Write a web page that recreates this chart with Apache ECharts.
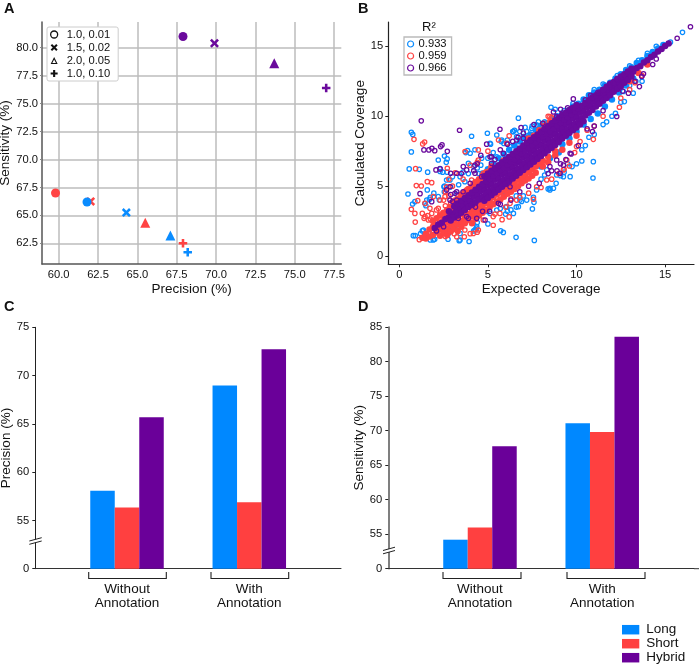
<!DOCTYPE html>
<html><head><meta charset="utf-8">
<style>html,body{margin:0;padding:0;background:#fff}#c{width:699px;height:665px}</style>
<script src="https://cdn.jsdelivr.net/npm/echarts@6/dist/echarts.min.js"></script>
</head><body><div id="c"></div>
<script>
const FONT = 'Liberation Sans';
const BLUE = '#0a8cff', RED = '#ff4343', PURPLE = '#6a0a9c';
const BAR_PURPLE = '#6a0099';

// Panel A: [precision, sensitivity] for each parameter setting
const paramLabels = ['1.0, 0.01', '1.5, 0.02', '2.0, 0.05', '1.0, 0.10'];
const longPR = [[61.8, 66.2], [64.3, 65.25], [67.1, 63.2], [68.2, 61.7]];
const shortPR = [[59.8, 67.0], [62.03, 66.25], [65.5, 64.35], [67.9, 62.5]];
const hybridPR = [[67.9, 81.0], [69.9, 80.4], [73.7, 78.6], [77.0, 76.4]];
const ticksAX = [60, 62.5, 65, 67.5, 70, 72.5, 75, 77.5];
const ticksAY = [62.5, 65, 67.5, 70, 72.5, 75, 77.5, 80];

// Panel B
const r2Labels = ['0.933', '0.959', '0.966'];
const ticksB = [0, 5, 10, 15];
const longRing = [[0.68,8.85],[0.76,8.7],[0.68,7.45],[0.56,6.23],[1.13,6.2],[1.6,6.0],[0.49,4.44],[0.75,3.72],[0.88,3.89],[0.79,1.46],[0.9,1.46],[1.58,4.73],[1.55,4.0],[1.7,4.05],[1.75,4.2],[1.95,4.5],[2.2,4.25],[1.45,3.75],[1.5,3.6],[2.55,7.15],[2.7,6.95],[2.65,6.7],[2.3,6.25],[2.3,6.05],[2.45,6.0],[2.7,6.0],[2.55,5.0],[2.9,4.95],[3.25,4.4],[3.35,5.1],[3.85,7.55],[3.75,7.4],[3.6,6.0],[3.9,5.9],[4.08,8.57],[4.97,8.78],[5.5,8.66],[5.15,8.0],[5.75,8.2],[5.9,8.05],[6.1,8.3],[6.4,8.9],[6.72,9.86],[6.5,9.0],[6.8,8.9],[7.1,9.2],[7.5,9.3],[7.85,9.6],[7.8,9.3],[8.2,9.6],[8.56,10.64],[8.8,10.5],[5.0,7.0],[5.3,7.4],[4.6,6.5],[4.4,6.3],[4.2,6.4],[4.5,5.9],[8.5,4.73],[8.4,4.8],[8.7,4.85],[8.85,5.2],[7.57,4.2],[7.6,3.84],[7.51,3.37],[6.59,1.34],[7.62,1.12],[5.72,1.81],[5.87,1.69],[5.0,2.3],[4.95,3.2],[6.3,3.3],[6.1,3.2],[6.6,3.5],[6.9,3.9],[7.0,4.3],[6.6,4.3],[6.0,3.0],[5.7,3.4],[4.4,2.4],[4.35,2.0],[4.2,1.8],[4.3,1.9],[3.94,1.04],[3.38,1.1],[2.75,1.2],[1.75,1.15],[2.0,1.2],[1.9,1.7],[1.3,1.8],[1.2,1.6],[2.9,1.8],[3.2,2.2],[10.3,6.8],[10.95,6.75],[10.93,5.58],[9.64,5.68],[9.1,5.75],[9.3,6.0],[10.0,6.6],[9.75,6.4],[9.5,6.6],[8.2,5.8],[8.0,5.5],[10.3,7.6],[10.5,7.9],[10.7,8.5],[11.0,8.7],[11.5,9.4],[11.7,9.6],[12.0,10.0],[12.2,10.2],[12.65,11.77],[13.2,11.65],[12.5,11.0],[12.7,11.05],[13.0,12.2],[13.35,12.5],[13.7,12.5],[15.98,16.0],[15.3,15.3],[9.8,10.9],[10.1,10.8],[10.5,11.0],[9.3,10.4],[11.0,11.9],[11.5,12.3],[12.3,12.9],[13.0,13.6],[13.5,14.0],[14.0,14.5],[14.5,15.0],
[2.2,6.87],[2.26,4.0],[2.52,4.96],[2.54,4.6],[2.67,5.44],[2.86,5.44],[3.0,5.68],[3.43,5.68],[3.7,5.32],[3.9,6.63],[4.0,7.35],[4.27,7.6],[4.65,7.0],[5.12,8.07],[5.2,7.1],[5.5,7.1],[5.78,8.3],[6.06,8.07],[6.25,7.83],[6.44,8.9],[6.62,8.54],[7.0,8.54],[7.19,8.9],[7.47,9.14],[7.75,9.38],[7.94,9.26],[8.32,9.5],[7.75,4.73],[8.5,4.85],[9.26,5.68],[8.88,5.8],[8.32,6.16],[6.06,3.53],[5.5,3.29],[5.12,3.05],[6.44,3.05],[6.81,4.0],[7.19,4.0],[6.72,3.53],[4.37,2.1],[4.27,1.86],[2.77,1.62],[2.86,1.86],[3.43,1.62],[3.43,1.15],[1.92,1.15],[1.36,1.86]];
const longCore = [[5.3,6.6],[5.6,7.0],[5.9,7.3],[6.2,7.6],[6.5,7.9],[6.8,8.2],[7.1,8.5],[7.4,8.7],[7.7,9.0],[8.0,9.3],[8.3,9.5],[8.6,9.8],[8.9,10.0],[9.2,10.2],[9.5,10.4],[9.8,10.7],[10.1,10.9],[10.4,11.2],[10.7,11.5],[11.0,11.7],[11.3,11.9],[11.6,12.2],[11.9,12.4],[12.2,12.7],[12.5,13.0],[12.8,13.3],[13.1,13.5],[13.4,13.8],[13.7,14.0],[14.0,14.3],[14.3,14.6],[14.6,14.85],[14.9,15.1],[9.2,8.0],[9.6,8.4],[10.0,8.9],[10.4,9.4],[10.8,9.8],[11.2,10.2],[11.6,10.7],[12.0,11.2],[12.4,11.7],[12.8,12.2],[13.2,12.7],[5.0,6.2],[4.7,5.9],[6.0,4.6],[7.0,5.4],[8.0,6.4],[8.5,7.0],[9.0,7.4]];
const shortRing = [[0.83,8.35],[1.32,8.02],[1.43,8.16],[0.92,6.25],[0.96,5.04],[1.24,5.01],[1.58,5.32],[1.83,5.25],[1.04,3.96],[0.68,3.34],[0.88,3.05],[1.3,3.05],[0.9,2.43],[3.71,7.47],[4.46,7.59],[4.46,6.87],[2.71,6.28],[3.15,5.95],[2.8,5.5],[3.0,5.0],[2.6,4.6],[2.8,4.3],[2.5,4.0],[2.9,3.8],[1.6,2.9],[1.4,2.7],[1.75,2.65],[2.1,3.3],[2.3,3.0],[2.6,3.6],[12.42,10.64],[10.95,8.35],[10.2,8.19],[9.6,6.44],[9.9,7.4],[7.57,4.06],[1.13,1.17],[3.67,1.38],[3.1,1.6],[2.6,1.4],[4.4,1.7],[4.0,1.6],[5.3,2.2],[5.8,2.6],[6.0,3.5],[6.2,2.8],[5.4,3.0],[6.3,4.1],[6.8,4.2],[7.3,4.5],[8.0,4.9],[8.6,5.5],[9.0,5.9],[9.3,6.2],[8.4,10.0],[8.6,9.9],[6.2,8.6],[5.6,8.3],[5.0,7.5],[4.4,6.7],[4.0,6.5],[3.6,5.5],[10.6,9.0],[11.0,9.3],[11.5,10.0],[12.5,11.3],[13.0,11.9],[13.3,12.4],[13.7,12.9],
[1.92,4.25],[2.3,4.0],[2.58,4.25],[2.67,4.96],[2.86,3.53],[3.14,4.0],[3.43,3.53],[1.83,3.05],[1.64,2.58],[1.45,2.82],[1.73,3.41],[1.45,3.77],[2.2,3.41],[3.61,4.25],[3.8,4.73],[4.08,5.44],[4.74,5.92],[5.12,6.16],[5.87,6.87],[6.06,8.07],[8.5,9.98],[8.13,9.5],[4.46,1.86],[3.7,1.86],[4.18,1.62],[3.24,1.38],[4.74,2.58],[5.3,2.82],[5.68,3.05],[6.25,3.77],[6.62,4.0],[7.75,4.96],[8.32,5.44],[9.26,6.16],[9.45,6.87],[10.0,7.83]];
const shortCore = [[1.3,1.3],[1.5,1.25],[1.5,1.6],[1.7,1.4],[1.7,1.9],[1.9,1.5],[1.9,2.1],[1.9,2.5],[2.1,1.7],[2.1,2.2],[2.1,2.7],[2.3,1.45],[2.3,1.9],[2.3,2.4],[2.3,2.9],[2.5,1.7],[2.5,2.15],[2.5,2.6],[2.5,3.1],[2.7,1.5],[2.7,1.95],[2.7,2.4],[2.7,2.9],[2.7,3.3],[2.9,1.75],[2.9,2.2],[2.9,2.65],[2.9,3.1],[2.9,3.5],[3.1,2.0],[3.1,2.45],[3.1,2.9],[3.1,3.4],[3.1,3.85],[3.3,1.8],[3.3,2.25],[3.3,2.7],[3.3,3.6],[3.3,4.1],[3.5,2.1],[3.5,2.5],[3.5,3.0],[3.5,3.9],[3.5,4.4],[3.7,2.35],[3.7,2.8],[3.7,3.2],[3.7,4.6],[3.9,2.6],[3.9,3.0],[3.9,4.8],[4.1,2.35],[4.1,2.85],[4.1,3.2],[4.1,5.0],[4.3,2.65],[4.3,3.1],[4.3,5.3],[4.5,2.9],[4.5,3.3],[4.5,5.5],[4.7,3.1],[4.7,3.6],[4.7,5.75],[4.9,3.3],[4.9,3.8],[4.9,6.0],[5.1,3.5],[5.1,3.95],[5.3,3.7],[5.3,4.2],[5.5,3.9],[5.5,4.4],[5.7,4.05],[5.7,4.55],[5.9,4.25],[5.9,4.7],[6.1,4.45],[6.1,4.9],[6.3,4.6],[6.3,5.05],[6.5,4.8],[6.5,5.25],[6.7,5.0],[6.7,5.45],[6.9,5.2],[6.9,5.6],[7.1,5.4],[7.1,5.8],[7.3,5.55],[7.3,6.0],[7.5,5.75],[7.5,6.2],[7.7,5.95],[7.7,6.4],[7.9,6.6],[8.1,6.4],[8.1,6.8],[8.4,6.7],[8.4,7.1],[8.8,7.2],[8.8,7.5],[9.2,7.6],[9.6,8.1],[10.0,8.6],[8.5,9.6],[8.2,9.3],[7.9,9.0],[7.6,8.6],[7.3,8.4],[5.2,6.4],[13.0,12.5],[13.5,13.1],[14.0,13.7],[3.9,4.4],[4.1,4.6],[4.3,4.9],[4.5,5.1],[4.7,5.3],[4.2,3.4],[4.4,3.6],[4.6,3.8]];
const hybridRing = [[1.24,9.67],[3.4,9.0],[5.68,9.07],[6.87,9.19],[4.93,8.0],[2.41,7.95],[2.33,7.83],[1.39,7.59],[1.67,7.59],[1.84,7.71],[2.0,7.54],[2.71,7.49],[2.07,6.16],[2.3,6.23],[2.9,5.92],[3.24,5.92],[3.5,5.9],[3.8,6.16],[4.27,6.5],[1.17,4.46],[1.83,3.89],[2.86,4.96],[3.14,4.49],[3.24,4.0],[12.27,9.98],[9.82,11.24],[10.5,11.17],[11.9,12.36],[13.55,12.12],[13.68,12.84],[13.78,13.03],[12.93,11.65],[4.84,2.58],[3.9,2.7],[3.33,2.7],[4.7,3.2],[16.43,16.4],[15.68,15.58],[14.3,13.7],[14.5,14.1],[13.3,12.5],[12.6,11.8],[11.5,10.4],[11.0,9.3],[10.9,8.9],[10.6,9.1],[10.1,7.9],[9.7,7.3],[9.4,6.9],[9.1,6.6],[8.9,6.1],[8.6,6.1],[8.4,5.9],[7.9,5.2],[7.3,5.0],[6.8,4.6],[6.3,4.0],[5.7,3.7],[5.1,3.2],[4.3,3.5],[4.2,6.1],[4.4,6.6],[4.6,7.2],[5.2,7.1],[5.4,6.9],[5.7,7.6],[6.1,8.0],[6.4,8.2],[6.7,8.5],[7.0,8.8],[7.6,9.4],[8.1,9.5],[8.7,10.3],[9.1,10.5],[9.5,10.6],[10.8,11.5],[11.2,11.7],[12.3,12.7],[3.0,3.9],[3.6,4.6],[4.0,5.2],[2.9,4.4],[2.5,2.1],[2.1,1.8],
[3.61,6.4],[4.27,5.92],[4.65,5.68],[5.2,6.63],[5.12,7.1],[5.87,7.35],[6.62,8.3],[7.0,8.42],[8.88,6.87],[8.5,6.4],[9.07,5.92],[9.26,6.5],[9.64,7.35],[8.88,9.98],[9.64,10.45],[2.86,4.0],[2.67,4.73],[3.24,4.6],[3.8,2.82],[4.37,2.7],[5.59,3.77],[6.25,4.96]];
const hybridCore = [[2.0,2.0],[2.2,2.25],[2.4,2.38],[2.6,2.65],[2.8,2.78],[3.0,3.05],[3.2,3.18],[3.4,3.45],[3.6,3.58],[3.8,3.85],[4.0,3.98],[4.2,4.25],[4.4,4.38],[4.6,4.65],[4.8,4.78],[5.0,5.05],[5.2,5.18],[5.4,5.45],[5.6,5.58],[5.8,5.85],[6.0,5.98],[6.2,6.25],[6.4,6.38],[6.6,6.65],[6.8,6.78],[7.0,7.05],[7.2,7.18],[7.4,7.45],[7.6,7.58],[7.8,7.85],[8.0,7.98],[8.2,8.25],[8.4,8.38],[8.6,8.65],[8.8,8.78],[9.0,9.05],[9.2,9.18],[9.4,9.45],[9.6,9.58],[9.8,9.85],[10.0,9.98],[10.2,10.25],[10.4,10.38],[10.6,10.65],[10.8,10.78],[11.0,11.05],[11.2,11.18],[11.4,11.45],[11.6,11.58],[11.8,11.85],[12.0,11.98],[12.2,12.25],[12.4,12.38],[12.6,12.65],[12.8,12.78],[13.0,13.05],[13.2,13.18],[13.4,13.45],[13.6,13.58],[13.8,13.85],[14.0,14.0],[14.2,14.23],[14.4,14.4],[14.6,14.63],[14.8,14.8],[15.0,15.03],[15.2,15.2],
[2.8,3.2],[3.1,3.55],[3.3,3.75],[3.5,3.95],[3.7,4.15],[3.9,4.35],[4.1,4.55],[4.3,4.75],[4.5,4.95],[4.7,5.15],[4.9,5.35],[5.1,5.55],[5.3,5.75],[5.5,5.95],[5.7,6.15],[5.9,6.35],[6.1,6.55],[6.3,6.75],[6.5,6.95],[6.7,7.15],[6.9,7.35],[7.1,7.55],[7.3,7.75],[7.5,7.95],[7.7,8.15],[7.9,8.35],[8.1,8.55],[8.3,8.75],[8.5,8.95],[8.7,9.15],[8.9,9.35],[9.1,9.55],[9.3,9.75],[9.5,9.95],[9.7,10.15],[9.9,10.35],[10.1,10.55],[10.3,10.75],[10.5,10.95],[10.7,11.15],[10.9,11.35],[11.1,11.5],[11.3,11.7],[11.5,11.9],[11.7,12.1],[11.9,12.3],[12.1,12.45],[12.3,12.65],[12.5,12.85],[12.7,13.0],[12.9,13.2],[13.1,13.4],
[2.9,2.55],[3.1,2.75],[3.3,2.9],[3.5,3.1],[3.7,3.3],[3.9,3.5],[4.1,3.65],[4.3,3.85],[4.5,4.05],[4.7,4.25],[4.9,4.45],[5.1,4.65],[5.3,4.85],[5.5,5.05],[5.7,5.25],[5.9,5.45],[6.1,5.65],[6.3,5.85],[6.5,6.05],[6.7,6.25],[6.9,6.45],[7.1,6.65],[7.3,6.85],[7.5,7.05],[7.7,7.25],[7.9,7.45],[8.1,7.65],[8.3,7.85],[8.5,8.05],[8.7,8.25],[8.9,8.45],[9.1,8.65],[9.3,8.85],[9.5,9.05],[9.7,9.25],[9.9,9.45],[10.1,9.65],[10.3,9.85],[10.5,10.05],[10.7,10.25],[10.9,10.45],[11.1,10.7],[11.3,10.9],[11.5,11.1],[11.7,11.3],[11.9,11.5],[12.1,11.75],[12.3,11.95],[12.5,12.15],[12.7,12.4],[12.9,12.6],[13.1,12.85],
[4.8,5.7],[5.0,5.9],[5.2,6.1],[5.4,6.3],[5.6,6.5],[5.8,6.7],[6.0,6.9],[6.2,7.1],[6.4,7.3],[6.6,7.5],[6.8,7.7],[7.0,7.9],[7.2,8.1],[7.4,8.3],[7.6,8.5],[7.8,8.7],[8.0,8.9],[8.2,9.1],[8.4,9.3],[8.6,9.5],[8.8,9.7],[9.0,9.9],[9.2,10.1],[9.4,10.25],[9.6,10.45],[9.8,10.6],[10.0,10.8],
[4.8,3.95],[5.0,4.15],[5.2,4.35],[5.4,4.55],[5.6,4.75],[5.8,4.95],[6.0,5.15],[6.2,5.35],[6.4,5.55],[6.6,5.75],[6.8,5.95],[7.0,6.15],[7.2,6.35],[7.4,6.55],[7.6,6.75],[7.8,6.95],[8.0,7.15],[8.2,7.35],[8.4,7.55],[8.6,7.75],[8.8,7.95],[9.0,8.15],[9.2,8.4],[9.4,8.6],[9.6,8.8],[9.8,9.0],[10.0,9.2],[10.2,9.4],[10.4,9.65]];

// Panels C, D: [Without Annotation, With Annotation]
const groupLabels = ['Without\nAnnotation', 'With\nAnnotation'];
const precisionLong = [58.08, 68.96], precisionShort = [56.35, 56.87], precisionHybrid = [65.68, 72.72];
const sensitivityLong = [54.2, 71.06], sensitivityShort = [55.96, 69.8], sensitivityHybrid = [67.73, 83.6];
const methodLabels = ['Long', 'Short', 'Hybrid'];

const tickCol = '#222';
const txt = {color: '#111', fontFamily: FONT, fontSize: 11.2};
const nameTxt = {color: '#111', fontFamily: FONT, fontSize: 13.5};

const PLUS = 'path://M3.5 0h3v3.5h3.5v3h-3.5v3.5h-3v-3.5H0v-3h3.5z';
const CROSS = 'path://M2 0L5 3L8 0L10 2L7 5L10 8L8 10L5 7L2 10L0 8L3 5L0 2Z';
const markerDefs = [
  {symbol: 'circle', size: 9},
  {symbol: CROSS, size: 9},
  {symbol: 'triangle', size: 10},
  {symbol: PLUS, size: 8.5}
];
function paramSeries(i) {
  const d = markerDefs[i];
  const pick = (arr, color) => ({value: arr[i], itemStyle: {color}});
  return {
    name: paramLabels[i], type: 'scatter', xAxisIndex: 0, yAxisIndex: 0,
    symbol: d.symbol, symbolSize: d.size,
    itemStyle: {opacity: 1, color: '#000'},
    data: [pick(hybridPR, PURPLE), pick(shortPR, RED), pick(longPR, BLUE)], z: 5
  };
}
function ring(name, data, color) {
  return {name, type: 'scatter', xAxisIndex: 1, yAxisIndex: 1, symbol: 'circle', symbolSize: 4.4, data,
    itemStyle: {color: 'rgba(255,255,255,0)', borderColor: color, borderWidth: 1.25, opacity: 1}, silent: true};
}
function core(name, data, color) {
  return {name, type: 'scatter', xAxisIndex: 1, yAxisIndex: 1, symbol: 'circle', symbolSize: 6.5, data,
    itemStyle: {color, opacity: 1}, silent: true};
}
function bars(name, vals, color, ax) {
  return {name, type: 'bar', xAxisIndex: ax, yAxisIndex: ax, barWidth: 24.5, barGap: 0,
    data: ['-', vals[0], '-', vals[1], '-'], itemStyle: {color, opacity: 1}};
}
const cats = ['', groupLabels[0], '', groupLabels[1], ''];
function barX(i) {
  return {type: 'category', gridIndex: i, data: cats,
    axisLine: {lineStyle: {color: '#333', width: 1}, onZero: false}, axisTick: {show: false},
    axisLabel: {...nameTxt, interval: 0, margin: 13, lineHeight: 14.5}};
}
function barY(i, max, name, gap) {
  return {type: 'value', gridIndex: i, min: 50, max, interval: 5, name, nameLocation: 'middle', nameGap: gap,
    nameTextStyle: nameTxt, splitLine: {show: false},
    axisLine: {show: true, lineStyle: {color: i === 3 ? '#555' : '#222', width: i === 3 ? 1.5 : 1}},
    axisTick: {show: true, length: 3, lineStyle: {color: tickCol}},
    axisLabel: {...txt, margin: 6, formatter: v => v === 50 ? '0' : String(v)}};
}
function brk(x0, x1, y) {
  return [
    {type: 'polygon', shape: {points: [[x0, y + 1], [x1, y - 2], [x1, y + 1], [x0, y + 4]]}, style: {fill: '#fff'}, z: 20},
    {type: 'line', shape: {x1: x0, y1: y + 1, x2: x1, y2: y - 2.3}, style: {stroke: '#222', lineWidth: 1}, z: 21},
    {type: 'line', shape: {x1: x0, y1: y + 4.3, x2: x1, y2: y + 1}, style: {stroke: '#222', lineWidth: 1}, z: 21}
  ];
}
function bracket(x0, x1) {
  return {type: 'polyline', shape: {points: [[x0, 572], [x0, 578.5], [x1, 578.5], [x1, 572]]},
    style: {stroke: '#222', lineWidth: 1.1, fill: null}, z: 10};
}
function letter(t, x, y) {
  return {type: 'text', x, y, style: {text: t, font: 'bold 14.5px "Liberation Sans"', fill: '#111'}, z: 30};
}

const option = {
  animation: false,
  textStyle: {fontFamily: FONT},
  grid: [
    {left: 42, top: 22, width: 299.3, height: 242, outerBoundsMode: 'none'},
    {left: 388.3, top: 22, width: 305.7, height: 242.3, outerBoundsMode: 'none'},
    {left: 35.3, top: 327.3, width: 305.7, height: 241.4, outerBoundsMode: 'none'},
    {left: 388.3, top: 327, width: 305.6, height: 241.7, outerBoundsMode: 'none'}
  ],
  xAxis: [
    {type: 'value', gridIndex: 0, min: 58.94, max: 77.96, name: 'Precision (%)', nameLocation: 'middle', nameGap: 18,
      nameTextStyle: nameTxt,
      axisLine: {lineStyle: {color: '#555', width: 1.5}}, axisTick: {show: false, customValues: ticksAX},
      axisLabel: {...txt, margin: 5, customValues: ticksAX, formatter: v => v.toFixed(1)},
      splitLine: {show: true, lineStyle: {color: '#bdbdbd', width: 1.5}}},
    {type: 'value', gridIndex: 1, min: -0.62, max: 16.63, name: 'Expected Coverage', nameLocation: 'middle', nameGap: 18,
      nameTextStyle: nameTxt,
      axisLine: {onZero: false, lineStyle: {color: '#222', width: 1.2}}, axisTick: {show: true, length: 3, customValues: ticksB, lineStyle: {color: tickCol}},
      axisLabel: {...txt, margin: 5, customValues: ticksB}, splitLine: {show: false}},
    barX(2), barX(3)
  ],
  yAxis: [
    {type: 'value', gridIndex: 0, min: 60.65, max: 82.3, name: 'Sensitivity (%)', nameLocation: 'middle', nameGap: 28,
      nameTextStyle: nameTxt,
      axisLine: {show: true, lineStyle: {color: '#555', width: 1.5}}, axisTick: {show: true, length: 2, customValues: ticksAY, lineStyle: {color: '#888'}},
      axisLabel: {...txt, margin: 4, customValues: ticksAY, formatter: v => v.toFixed(1)},
      splitLine: {show: true, lineStyle: {color: '#bdbdbd', width: 1.5}}},
    {type: 'value', gridIndex: 1, min: -0.59, max: 16.74, name: 'Calculated Coverage', nameLocation: 'middle', nameGap: 17,
      nameTextStyle: nameTxt,
      axisLine: {show: true, onZero: false, lineStyle: {color: '#222', width: 1.2}}, axisTick: {show: true, length: 3, customValues: ticksB, lineStyle: {color: tickCol}},
      axisLabel: {...txt, margin: 5, customValues: ticksB}, splitLine: {show: false}},
    barY(2, 75, 'Precision (%)', 21),
    barY(3, 85, 'Sensitivity (%)', 19.5)
  ],
  legend: [
    {left: 47, top: 27, orient: 'vertical', padding: [1, 8, 1, 3], itemGap: 0, itemWidth: 15, itemHeight: 7,
      backgroundColor: '#fff', borderColor: '#ccc', borderWidth: 1, borderRadius: 2, selectedMode: false,
      textStyle: {...txt, lineHeight: 13},
      data: [
        {name: paramLabels[0], icon: 'circle', itemStyle: {color: '#fff', borderColor: '#111', borderWidth: 1.3}},
        {name: paramLabels[1], icon: CROSS, itemStyle: {color: '#111'}},
        {name: paramLabels[2], icon: 'path://M0 10L5 0L10 10Z M2.4 8.6H7.6L5 3.4Z', itemStyle: {color: '#111'}},
        {name: paramLabels[3], icon: PLUS, itemStyle: {color: '#111'}}
      ]},
    {left: 404, top: 37, orient: 'vertical', padding: [1, 5, 1, 3], itemGap: 0, itemWidth: 6, itemHeight: 6,
      backgroundColor: '#fff', borderColor: '#bbb', borderWidth: 1.3, selectedMode: false,
      textStyle: {...txt, lineHeight: 12},
      data: r2Labels.map((n, i) => ({name: n, icon: 'circle', itemStyle: {color: '#fff', borderColor: [BLUE, RED, PURPLE][i], borderWidth: 1.2}}))},
    {left: 622, top: 622.7, orient: 'vertical', padding: 0, itemGap: 0, itemWidth: 17.3, itemHeight: 9.5, selectedMode: false,
      textStyle: {...nameTxt, lineHeight: 14, padding: [0, 0, 0, 2]},
      data: methodLabels.map(n => ({name: n, icon: 'rect'}))}
  ],
  series: [
    paramSeries(3), paramSeries(2), paramSeries(1), paramSeries(0),
    core('Long core', longCore, BLUE), ring(r2Labels[0], longRing, BLUE),
    core('Short core', shortCore, RED), ring(r2Labels[1], shortRing, RED),
    core('Hybrid core', hybridCore, PURPLE), ring(r2Labels[2], hybridRing, PURPLE),
    bars('Long', precisionLong, '#0088ff', 2), bars('Short', precisionShort, '#ff4040', 2), bars('Hybrid', precisionHybrid, BAR_PURPLE, 2),
    bars('Long', sensitivityLong, '#0088ff', 3), bars('Short', sensitivityShort, '#ff4040', 3), bars('Hybrid', sensitivityHybrid, BAR_PURPLE, 3)
  ],
  graphic: [
    letter('A', 4, 1), letter('B', 358, 1), letter('C', 4, 299), letter('D', 358, 299),
    {type: 'text', x: 422, y: 21, style: {text: 'R²', font: '13px "Liberation Sans"', fill: '#111'}, z: 30},
    bracket(88.7, 166.3), bracket(211, 288.7), bracket(443, 521), bracket(567, 645),
    {type: 'line', shape: {x1: 693.9, y1: 568.7, x2: 699, y2: 568.7}, style: {stroke: '#333', lineWidth: 1}, z: 10},
    ...brk(29.3, 41.7, 540), ...brk(383, 395, 549.5)
  ]
};
const chart = echarts.init(document.getElementById('c'), null, {renderer: 'canvas'});
chart.setOption(option);
</script></body></html>
